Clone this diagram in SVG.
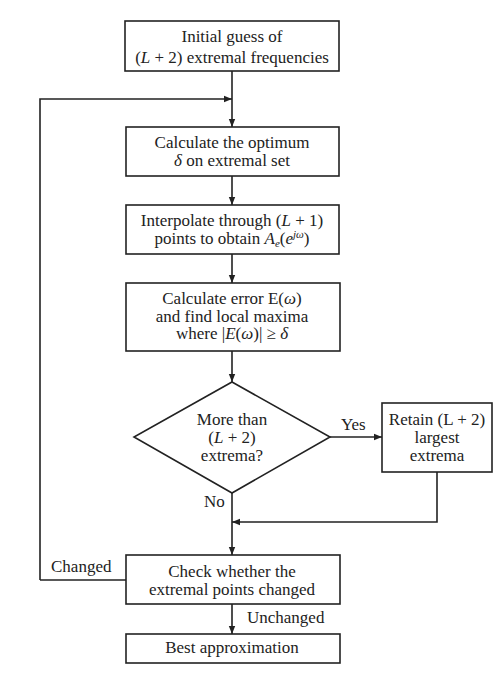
<svg xmlns="http://www.w3.org/2000/svg" width="494" height="675" viewBox="0 0 494 675">
<style>
.box{fill:#fff;stroke:#222;stroke-width:1.6}
.ln{fill:none;stroke:#222;stroke-width:1.6}
text{font-family:"Liberation Serif","Times New Roman",serif;font-size:17px;fill:#222;text-anchor:middle}
.lbl{text-anchor:start}
.i{font-style:italic}
</style>
<defs>
<marker id="ah" viewBox="0 0 10 10" refX="10" refY="5" markerWidth="8" markerHeight="8" markerUnits="userSpaceOnUse" orient="auto">
<path d="M0,1 L10,5 L0,9 Z" fill="#222"/>
</marker>
</defs>
<rect width="494" height="675" fill="#fff"/>
<g id="connectors">
<path class="ln" d="M232,71 V127" marker-end="url(#ah)"/>
<path class="ln" d="M40,580 V99 H232" marker-end="url(#ah)"/>
<path class="ln" d="M232,176 V205" marker-end="url(#ah)"/>
<path class="ln" d="M232,254 V283" marker-end="url(#ah)"/>
<path class="ln" d="M232,351 V382" marker-end="url(#ah)"/>
<path class="ln" d="M330,437 H382" marker-end="url(#ah)"/>
<path class="ln" d="M437,472 V522 H232" marker-end="url(#ah)"/>
<path class="ln" d="M232,493 V555" marker-end="url(#ah)"/>
<path class="ln" d="M126,580 H40"/>
<path class="ln" d="M232,604 V634" marker-end="url(#ah)"/>
<text class="lbl" x="341" y="430">Yes</text>
<text class="lbl" x="204" y="507">No</text>
<text class="lbl" x="51" y="572">Changed</text>
<text class="lbl" x="247" y="623">Unchanged</text>
</g>
<g id="n1">
<rect class="box" x="125" y="21" width="214" height="50"/>
<text x="232" y="42">Initial guess of</text>
<text x="232" y="63">(<tspan class="i">L</tspan> + 2) extremal frequencies</text>
</g>
<g id="n2">
<rect class="box" x="126" y="127" width="213" height="49"/>
<text x="232" y="148">Calculate the optimum</text>
<text x="232" y="166"><tspan class="i">δ</tspan> on extremal set</text>
</g>
<g id="n3">
<rect class="box" x="126" y="205" width="213" height="49"/>
<text x="232" y="226">Interpolate through (<tspan class="i">L</tspan> + 1)</text>
<text x="232" y="244">points to obtain <tspan class="i">A</tspan><tspan class="i" font-size="11" dy="3">e</tspan><tspan dy="-3">(</tspan><tspan class="i">e</tspan><tspan class="i" font-size="11" dy="-6">jω</tspan><tspan dy="6">)</tspan></text>
</g>
<g id="n4">
<rect class="box" x="126" y="283" width="214" height="68"/>
<text x="232" y="304">Calculate error E(<tspan class="i">ω</tspan>)</text>
<text x="232" y="322">and find local maxima</text>
<text x="232" y="339">where |<tspan class="i">E</tspan>(<tspan class="i">ω</tspan>)| ≥ <tspan class="i">δ</tspan></text>
</g>
<g id="n5">
<polygon class="box" points="232,382 330,437 232,493 134,437"/>
<text x="232" y="425">More than</text>
<text x="232" y="443">(<tspan class="i">L</tspan> + 2)</text>
<text x="232" y="461">extrema?</text>
</g>
<g id="n6">
<rect class="box" x="382" y="403" width="110" height="69"/>
<text x="437" y="425">Retain (L + 2)</text>
<text x="437" y="443">largest</text>
<text x="437" y="461">extrema</text>
</g>
<g id="n7">
<rect class="box" x="126" y="555" width="214" height="49"/>
<text x="232" y="577">Check whether the</text>
<text x="232" y="595">extremal points changed</text>
</g>
<g id="n8">
<rect class="box" x="126" y="634" width="214" height="29"/>
<text x="232" y="653">Best approximation</text>
</g>
</svg>
